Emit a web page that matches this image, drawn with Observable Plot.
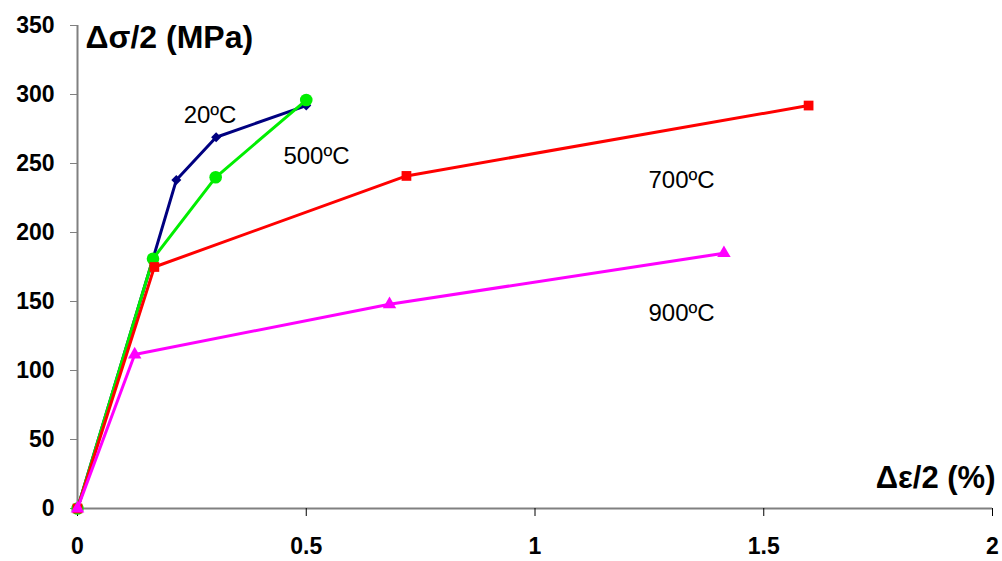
<!DOCTYPE html>
<html>
<head>
<meta charset="utf-8">
<script src="https://cdn.jsdelivr.net/npm/d3@7"></script>
<script src="https://cdn.jsdelivr.net/npm/@observablehq/plot@0.6"></script>
<style>
  html, body { margin: 0; padding: 0; background: #fff; }
  #chart { width: 1002px; height: 561px; }
</style>
</head>
<body>
<div id="chart"></div>
<script>
// ---- Data ----
const x20  = [0, 0.165, 0.216, 0.303, 0.500];
const y20  = [0, 181, 238, 269, 292];
const x500 = [0, 0.165, 0.302, 0.500];
const y500 = [0, 181, 240, 296];
const x700 = [0, 0.168, 0.719, 1.598];
const y700 = [0, 175, 241, 292];
const x900 = [0, 0.125, 0.682, 1.413];
const y900 = [0, 111.6, 148, 185];

const labelNames = ["20ºC", "500ºC", "700ºC", "900ºC"];
const labelX = [0.232, 0.450, 1.248, 1.248];
const labelY = [279, 250, 232.6, 136.2];

const xTicks = [0, 0.5, 1, 1.5, 2];
const xTickLabels = ["0", "0.5", "1", "1.5", "2"];
const yTicks = [0, 50, 100, 150, 200, 250, 300, 350];

const yTitle = "Δσ/2 (MPa)";
const xTitle = "Δε/2 (%)";

const toRows = (xs, ys) => xs.map((x, i) => ({x, y: ys[i]}));
const s20 = toRows(x20, y20), s500 = toRows(x500, y500),
      s700 = toRows(x700, y700), s900 = toRows(x900, y900);

const series = [
  {data: s20,  color: "#000080", symbol: "diamond2", r: 4.5},
  {data: s500, color: "#00ee00", symbol: "circle",   r: 6.3},
  {data: s700, color: "#ff0000", symbol: "square",   r: 5.5},
  {data: s900, color: "#ff00ff", symbol: "triangle", r: 5}
];

const marks = [
  Plot.ruleY([0], {stroke: "#808080", strokeWidth: 2}),
  Plot.ruleX([0], {stroke: "#808080", strokeWidth: 2}),
  Plot.axisX({ticks: xTicks, tickFormat: d => xTickLabels[xTicks.indexOf(d)],
    tickSize: 8, tickPadding: 21, fontSize: 23, fontWeight: "bold", stroke: "#000", fill: "#000", label: null}),
  Plot.axisY({ticks: yTicks, tickSize: 7, tickPadding: 16, fontSize: 23, fontWeight: "bold",
    stroke: "#808080", fill: "#000", label: null})
];
for (const s of series) {
  marks.push(Plot.line(s.data, {x: "x", y: "y", stroke: s.color, strokeWidth: 3}));
  marks.push(Plot.dot(s.data, {x: "x", y: "y", symbol: () => s.symbol, r: s.r, fill: s.color, stroke: "none"}));
}
marks.push(
  Plot.text(labelNames, {x: (d, i) => labelX[i], y: (d, i) => labelY[i], text: d => d,
    textAnchor: "start", lineAnchor: "bottom", fontSize: 24, fill: "#000"}),
  Plot.text([yTitle], {frameAnchor: "top-left", text: d => d, dx: 8, dy: 0, textAnchor: "start",
    lineAnchor: "top", fontSize: 32, fontWeight: "bold", fill: "#000"}),
  Plot.text([xTitle], {frameAnchor: "bottom-right", text: d => d, dx: 3, dy: -21, textAnchor: "end",
    lineAnchor: "bottom", fontSize: 31, fontWeight: "bold", fill: "#000"})
);

const chart = Plot.plot({
  width: 1002,
  height: 561,
  marginLeft: 77,
  marginRight: 10,
  marginTop: 25,
  marginBottom: 53,
  x: {domain: [0, 2]},
  y: {domain: [0, 350]},
  symbol: {type: "identity"},
  style: {fontFamily: "'Liberation Sans', Arial, sans-serif", background: "#fff", overflow: "visible"},
  marks
});
document.getElementById("chart").appendChild(chart);
</script>
</body>
</html>
